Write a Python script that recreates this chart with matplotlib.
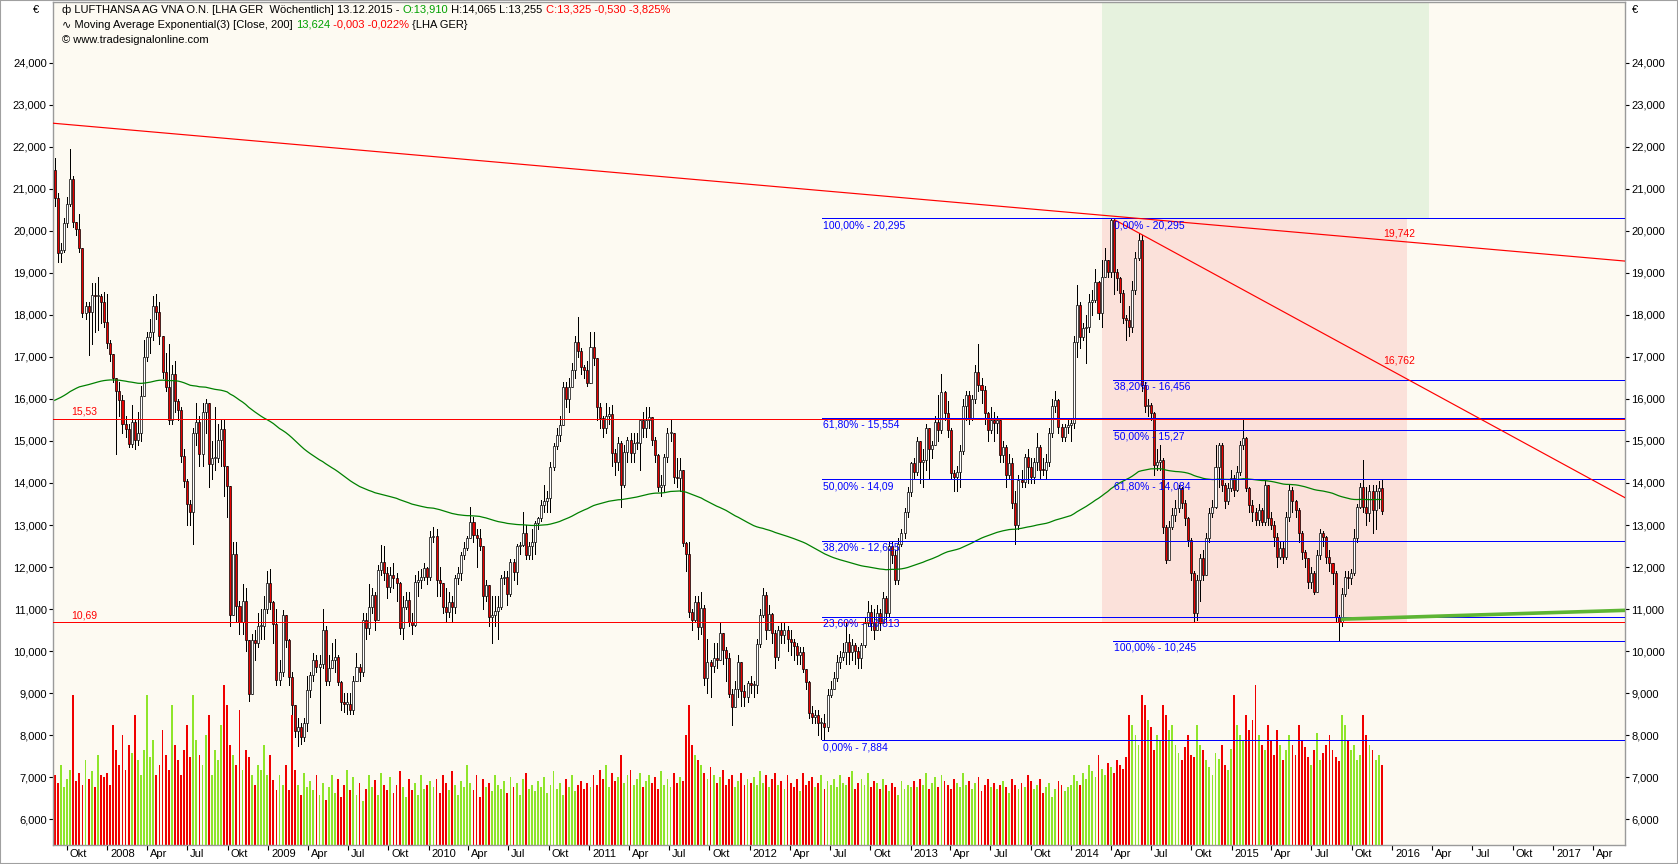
import datetime as dt
import numpy as np
import pandas as pd
import matplotlib
matplotlib.use("Agg")
import matplotlib.pyplot as plt
import matplotlib.dates as mdates
from matplotlib.patches import Rectangle

# ---------------- data (weekly LHA candles) ----------------
last_bar_date = "2015-12-08"
first_open = 21.44

close_ = [
    # Sep 2007 - Jan 2009
    20.78, 19.48, 19.55, 20.18, 20.64, 21.24, 20.21, 20.05, 19.6, 18.05, 18.2, 18.06, 18.47, 18.45, 18.45, 18.3,
    17.84, 17.33, 17.06, 16.5, 16.2, 15.97, 15.4, 15.28, 14.92, 15.46, 15.02, 15.2, 16.07, 17.0, 17.47, 17.6,
    18.2, 18.06, 17.5, 16.65, 16.29, 15.51, 16.6, 15.96, 15.73, 14.64, 14.05, 13.5, 13.32, 15.19, 15.46, 14.69,
    15.7, 15.9, 14.46, 14.6, 14.6, 15.03, 15.28, 14.41, 13.93, 10.85, 12.3, 11.08, 10.7, 11.2, 10.26, 8.98,
    10.26, 10.2, 10.6, 10.6, 11.0, 11.63, 11.17, 10.65,
    # Jan 2009 - Jun 2010
    9.31, 9.5, 10.86, 10.26, 9.39, 8.72, 8.1, 8.2, 7.95, 8.3, 9.07, 9.43, 9.8, 9.63, 9.7, 10.5,
    9.3, 9.6, 9.8, 9.87, 9.27, 8.8, 8.75, 8.75, 8.6, 9.3, 9.63, 9.5, 10.74, 10.55, 11.06, 11.33,
    10.74, 11.93, 12.13, 11.85, 11.53, 11.81, 11.73, 11.61, 10.54, 11.06, 11.22, 10.70, 10.62, 11.65, 11.69, 11.77,
    11.97, 11.77, 12.72, 12.75, 11.69, 11.61, 11.06, 10.94, 11.18, 11.06, 11.73, 11.85, 12.29, 12.45, 12.68, 13.08,
    12.76, 12.68, 12.49, 11.30, 11.57, 10.82, 10.86, 10.95,
    # Jun 2010 - Oct 2011
    11.06, 11.73, 11.77, 11.37, 12.13, 11.89, 12.49, 12.52, 12.8, 12.29, 12.49, 12.6, 13.04, 13.16, 13.48, 13.56,
    13.64, 14.39, 14.87, 15.14, 15.38, 16.29, 16.0, 16.29, 16.69, 17.36, 17.13, 16.75, 16.7, 16.37, 17.24, 16.97,
    15.81, 15.54, 15.3, 15.6, 15.65, 14.72, 14.51, 14.94, 13.95, 14.74, 15.02, 14.71, 14.95, 14.95, 15.5, 15.3,
    15.5, 15.57, 15.02, 14.67, 13.91, 13.95, 14.62, 15.18, 15.2, 14.15, 14.11, 14.3, 12.57, 12.3, 10.94, 10.74,
    11.18, 10.58, 11.02, 9.35, 9.75, 9.64, 9.83, 9.79,
    # Oct 2011 - Mar 2013
    10.42, 10.03, 9.83, 8.99, 8.68, 9.11, 9.75, 9.05, 8.92, 9.23, 9.19, 9.2, 10.18, 10.86, 11.34, 10.5,
    10.88, 10.42, 9.87, 10.50, 10.38, 10.5, 10.30, 10.22, 10.11, 9.91, 9.98, 9.57, 9.27, 8.52, 8.44, 8.48,
    8.28, 8.28, 8.20, 8.96, 9.11, 9.35, 9.75, 9.87, 9.99, 10.22, 9.99, 10.14, 10.0, 9.83, 10.14, 10.66,
    10.94, 10.66, 10.5, 10.9, 10.66, 11.26, 10.90, 12.49, 12.29, 11.69, 12.56, 12.80, 13.32, 13.78, 14.47, 14.27,
    15.0, 14.51, 14.55, 15.3, 14.82, 14.9, 15.46, 15.26,
    # Mar 2013 - Jul 2014
    16.17, 15.67, 15.26, 14.23, 14.15, 14.27, 14.75, 15.83, 16.09, 15.54, 16.0, 16.65, 16.33, 16.21, 15.66, 15.26,
    15.5, 15.42, 15.5, 14.67, 14.86, 14.19, 14.47, 13.52, 13.0, 14.07, 14.03, 14.63, 14.39, 14.15, 14.51, 14.86,
    14.31, 14.3, 14.51, 15.18, 15.82, 15.97, 15.34, 15.10, 15.34, 15.38, 15.42, 17.36, 18.24, 17.48, 17.68, 17.7,
    18.31, 18.35, 18.79, 18.04, 18.91, 19.31, 19.03, 20.25, 19.03, 18.87, 18.51, 17.92, 17.88, 17.72, 18.59, 19.35,
    19.78, 16.33, 15.82, 15.85, 15.66, 14.43, 14.5, 14.55,
    # Jul 2014 - Dec 2015
    12.96, 12.17, 12.96, 13.24, 13.40, 13.87, 13.52, 13.16, 12.64, 11.85, 10.90, 11.69, 12.21, 11.81, 12.68, 13.28,
    13.44, 14.39, 14.9, 13.95, 13.56, 13.87, 14.11, 13.83, 14.27, 14.90, 15.06, 13.87, 13.48, 13.32, 13.12, 13.36,
    13.08, 13.95, 13.16, 13.0, 12.72, 12.25, 12.45, 12.25, 13.2, 13.83, 13.56, 13.36, 12.80, 12.36, 12.21, 11.65,
    11.85, 11.41, 12.29, 12.80, 12.72, 12.25, 12.09, 11.85, 10.82, 10.7, 11.37, 11.77, 11.73, 11.85, 12.68, 13.44,
    13.91, 13.44, 13.28, 13.8, 13.36, 13.8, 13.87, 13.325,
]

high_ = [
    21.73, 20.9, 19.7, 20.3, 20.8, 21.94, 21.3, 20.2, 20.4, 19.55, 18.3, 18.3, 18.75, 18.75, 18.9, 18.5,
    18.55, 18.5, 17.4, 17.0, 16.4, 16.4, 16.1, 15.6, 15.4, 15.85, 15.5, 15.7, 16.3, 17.4, 17.6, 17.9,
    18.45, 18.5, 18.3, 17.45, 17.1, 17.3, 16.8, 16.9, 16.0, 15.8, 14.8, 14.1, 13.6, 15.3, 15.9, 15.6,
    15.9, 16.0, 15.3, 15.0, 15.8, 15.4, 15.5, 15.5, 14.4, 13.5, 12.6, 12.6, 11.2, 11.6, 11.5, 10.2,
    10.4, 10.5, 10.9, 11.0, 11.3, 11.9, 11.95, 11.2,
    11.0, 9.8, 10.98, 10.8, 10.3, 9.5, 8.6, 8.4, 8.3, 8.4, 9.4, 9.5, 9.95, 9.9, 9.9, 11.0,
    10.6, 9.9, 10.2, 10.3, 9.9, 9.3, 9.0, 9.0, 9.0, 9.4, 9.95, 9.7, 10.9, 10.9, 11.6, 11.5,
    11.4, 12.05, 12.52, 12.5, 12.0, 12.0, 12.1, 11.85, 11.65, 11.3, 11.4, 11.4, 10.9, 11.8, 11.9, 11.95,
    12.1, 12.0, 12.85, 12.95, 12.9, 12.0, 11.6, 11.5, 11.4, 11.3, 11.8, 12.0, 12.35, 12.6, 12.75, 13.44,
    13.2, 12.9, 12.9, 12.5, 11.7, 11.5, 11.3, 11.3,
    11.3, 11.8, 11.9, 11.9, 12.2, 12.2, 12.55, 12.6, 13.32, 13.0, 12.6, 12.9, 13.1, 13.2, 13.6, 13.95,
    13.8, 14.5, 14.95, 15.3, 15.6, 16.4, 16.4, 16.5, 16.85, 17.5, 17.96, 17.2, 16.8, 16.9, 17.6, 17.6,
    16.8, 15.9, 15.6, 15.9, 15.8, 15.85, 14.8, 15.1, 15.0, 14.9, 15.1, 15.2, 15.2, 15.2, 15.5, 15.7,
    15.8, 15.8, 15.3, 15.1, 14.7, 14.2, 14.7, 15.3, 15.5, 15.1, 14.6, 14.6, 14.3, 12.6, 12.6, 11.0,
    11.3, 11.3, 11.4, 11.1, 10.3, 9.8, 10.2, 10.2,
    10.7, 10.4, 10.1, 9.95, 9.1, 9.3, 9.9, 9.5, 9.2, 9.3, 9.4, 9.3, 10.3, 11.0, 11.5, 11.4,
    11.1, 10.9, 10.5, 10.6, 10.7, 10.7, 10.6, 10.5, 10.3, 10.2, 10.1, 10.1, 9.5, 9.3, 8.7, 8.6,
    8.6, 8.4, 8.5, 9.1, 9.3, 9.5, 9.9, 10.0, 10.2, 10.7, 10.4, 10.3, 10.2, 10.1, 10.2, 10.8,
    11.2, 11.1, 11.0, 11.1, 11.0, 11.4, 11.3, 12.6, 12.6, 12.4, 12.7, 12.9, 13.4, 13.9, 14.5, 14.6,
    15.1, 15.0, 14.8, 15.4, 15.3, 15.0, 15.6, 16.09,
    16.6, 16.2, 15.95, 15.3, 14.3, 14.4, 14.9, 16.0, 16.2, 16.2, 16.1, 16.8, 17.3, 16.5, 16.3, 15.7,
    15.8, 15.7, 15.6, 15.4, 15.0, 14.9, 14.7, 14.6, 13.8, 14.2, 14.3, 14.7, 14.8, 14.6, 14.6, 15.2,
    14.9, 14.6, 14.7, 15.3, 16.0, 16.2, 16.0, 15.4, 15.4, 15.5, 15.5, 17.5, 18.7, 18.3, 17.8, 18.0,
    18.5, 18.6, 19.1, 18.8, 19.3, 19.6, 19.3, 20.295, 20.28, 19.1, 18.9, 18.6, 18.0, 18.2, 18.8, 19.5,
    19.95, 19.9, 16.4, 16.0, 15.9, 15.7, 14.8, 14.9,
    14.6, 13.0, 13.1, 13.4, 13.6, 13.95, 13.9, 13.6, 13.2, 12.7, 11.9, 11.8, 12.3, 12.4, 12.8, 13.4,
    13.6, 14.9, 14.95, 14.95, 14.0, 14.0, 14.3, 14.2, 14.4, 15.0, 15.52, 15.1, 13.9, 13.6, 13.4, 13.5,
    13.4, 14.1, 13.95, 13.3, 13.1, 12.8, 12.6, 12.6, 13.3, 13.95, 13.9, 13.6, 13.4, 12.85, 12.4, 12.2,
    12.0, 11.9, 12.4, 12.9, 12.85, 12.75, 12.4, 12.1, 11.9, 10.85, 11.5, 11.9, 11.9, 11.95, 12.9, 13.5,
    14.0, 14.55, 13.9, 13.95, 13.95, 13.95, 14.05, 14.065,
]

low_ = [
    20.6, 19.25, 19.25, 19.5, 20.1, 20.6, 20.1, 19.9, 19.5, 17.95, 17.9, 17.04, 17.3, 17.6, 17.65, 17.8,
    17.7, 17.2, 16.9, 16.4, 14.69, 15.6, 15.2, 15.1, 14.85, 14.85, 14.8, 14.9, 15.0, 16.3, 16.9, 17.1,
    17.4, 17.9, 17.3, 16.5, 16.2, 15.4, 15.4, 15.7, 15.5, 14.5, 13.9, 13.0, 13.0, 12.56, 14.9, 14.4,
    14.4, 15.2, 13.9, 14.1, 14.3, 14.5, 14.4, 13.7, 13.2, 10.6, 11.4, 10.7, 10.4, 10.4, 10.0, 8.82,
    9.1, 9.8, 10.1, 10.3, 10.3, 10.9, 11.0, 10.2,
    9.2, 9.2, 9.4, 10.1, 9.2, 8.5, 7.95, 7.75, 7.8, 7.85, 8.1, 8.9, 9.3, 9.5, 8.3, 9.6,
    9.2, 9.2, 9.6, 9.5, 9.2, 8.6, 8.55, 8.5, 8.5, 8.5, 9.3, 9.3, 9.4, 10.3, 10.4, 10.9,
    10.5, 10.8, 11.8, 11.7, 11.26, 11.4, 11.5, 11.2, 10.4, 10.3, 11.0, 10.6, 10.4, 10.6, 11.3, 11.5,
    11.7, 11.6, 11.7, 12.6, 11.3, 11.3, 10.9, 10.7, 10.8, 10.7, 10.9, 11.6, 11.7, 12.2, 12.4, 12.7,
    12.6, 12.0, 12.4, 11.0, 11.2, 10.6, 10.2, 10.6,
    10.3, 11.0, 11.6, 11.1, 11.3, 11.7, 11.6, 12.3, 12.5, 12.2, 12.2, 12.2, 12.3, 12.9, 13.1, 13.3,
    13.3, 13.3, 14.3, 14.8, 15.0, 15.4, 15.8, 15.7, 16.4, 16.5, 17.0, 16.6, 16.5, 16.3, 16.4, 16.8,
    15.5, 15.3, 15.1, 15.2, 15.4, 14.4, 14.2, 14.3, 13.44, 13.9, 14.5, 14.5, 14.5, 14.8, 14.3, 15.1,
    15.1, 15.3, 14.9, 14.5, 13.8, 13.7, 13.8, 14.5, 15.0, 14.0, 13.9, 13.8, 12.5, 11.9, 10.8, 10.5,
    10.7, 10.3, 10.4, 9.2, 9.0, 8.9, 9.5, 9.6,
    9.8, 9.7, 9.3, 8.9, 8.25, 8.8, 8.9, 8.7, 8.7, 8.8, 9.0, 8.9, 9.0, 10.1, 10.8, 10.3,
    10.5, 10.2, 9.6, 9.8, 10.2, 10.2, 10.0, 9.9, 9.8, 9.7, 9.7, 9.5, 9.1, 8.4, 8.3, 8.3,
    8.0, 7.9, 7.884, 8.1, 8.9, 9.1, 9.3, 9.6, 9.8, 9.7, 9.7, 9.8, 9.7, 9.6, 9.6, 10.1,
    10.6, 10.5, 10.3, 10.5, 10.5, 10.7, 10.7, 10.8, 12.1, 11.6, 11.6, 12.5, 12.7, 13.2, 13.7, 14.1,
    14.2, 14.0, 13.9, 14.3, 14.1, 14.6, 14.9, 15.0,
    15.2, 15.5, 15.1, 14.1, 13.8, 13.8, 13.9, 14.7, 15.5, 15.4, 15.5, 15.9, 16.2, 15.9, 15.4, 15.0,
    15.2, 15.0, 15.2, 14.5, 14.5, 13.9, 14.1, 13.4, 12.54, 12.9, 13.9, 13.9, 14.0, 14.0, 14.0, 14.3,
    14.1, 14.2, 14.1, 14.4, 15.1, 15.7, 15.2, 15.0, 15.0, 15.2, 15.0, 15.3, 17.0, 17.2, 17.4, 16.85,
    17.6, 18.0, 18.3, 17.9, 17.7, 18.9, 18.9, 18.9, 18.5, 18.6, 18.3, 17.8, 17.4, 17.5, 17.6, 18.5,
    19.3, 16.2, 15.7, 15.6, 15.5, 14.2, 14.3, 14.3,
    12.8, 12.09, 12.2, 12.9, 13.1, 13.3, 13.4, 13.0, 12.5, 11.7, 10.7, 10.75, 11.2, 11.7, 11.8, 12.6,
    13.2, 13.4, 13.9, 13.8, 13.4, 13.5, 13.8, 13.7, 13.8, 14.2, 14.8, 13.8, 13.3, 13.1, 13.0, 13.0,
    13.0, 13.0, 13.0, 12.9, 12.5, 12.0, 12.2, 12.1, 12.2, 13.1, 13.3, 13.2, 12.6, 12.2, 12.0, 11.5,
    11.5, 11.35, 11.4, 12.2, 12.5, 12.1, 11.9, 11.6, 10.7, 10.245, 10.6, 11.3, 11.5, 11.6, 11.8, 12.6,
    13.4, 13.3, 13.0, 13.1, 12.8, 12.9, 13.4, 13.255,
]

# weekly volume (relative units, 1 unit = 1 px of bar height)
volume = [
    70, 62, 80, 58, 66, 75, 150, 64, 72, 60, 85, 66, 74, 58, 90, 70, 68, 72, 60,
    120, 95, 80, 110, 75, 100, 92, 130, 85, 70, 95, 150, 88, 105, 70, 80, 115, 90, 75, 140, 100, 85, 70, 95, 120, 88,
    150, 105, 90, 80, 110, 130, 70, 95, 85, 120, 160, 140, 100, 90, 80, 135, 75, 95, 88, 70, 60, 80, 75, 100, 70, 90,
    65, 55, 70, 60, 80, 55, 130, 75, 60, 50, 72, 58, 64, 55, 70, 50, 62, 45, 58, 70, 52, 66, 48, 60, 75, 55, 68, 50,
    62, 44, 56, 70, 58, 65, 50, 72, 60, 55, 68, 52, 60, 74, 58, 48, 66, 55, 62, 50, 70, 56, 60, 64,
    58, 66, 52, 70, 62, 55, 74, 60, 50, 64, 58, 80, 62, 55, 70, 48, 66, 58, 62, 54, 70, 60, 56, 64, 52, 68, 58, 62,
    50, 66, 72, 56, 60, 54, 64, 58, 68, 52, 60, 74, 56, 62, 50, 66, 58, 70, 54, 60, 64, 56, 62, 58,
    70, 60, 75, 66, 80, 58, 72, 64, 68, 90, 62, 70, 75, 60, 66, 72, 58, 64, 70, 62, 68, 56, 74, 60, 66, 58, 72, 62,
    68, 64, 110, 140, 100, 90, 85, 80, 72, 66, 78, 70, 62, 68, 75, 60, 66, 70, 58, 64, 72, 60, 66, 62,
    68, 60, 74, 62, 70, 58, 66, 72, 60, 64, 56, 70, 62, 58, 66, 54, 72, 60, 64, 68, 58, 62, 70, 56, 64, 60, 66, 58,
    70, 62, 60, 68, 74, 56, 62, 66, 60, 72, 58, 64, 62, 56, 66, 60, 54, 62, 58, 50, 64, 56, 60, 58,
    64, 58, 66, 60, 72, 56, 62, 68, 58, 70, 64, 60, 56, 66, 62, 58, 72, 60, 64, 56, 62, 68, 54, 60, 66, 58, 62, 56,
    60, 64, 58, 52, 66, 60, 56, 62, 58, 70, 64, 56, 60, 66, 52, 58, 62, 48, 56, 64, 60, 54, 58, 60,
    70, 64, 60, 72, 66, 80, 74, 68, 90, 76, 70, 82, 78, 72, 85, 80, 76, 88, 130, 120, 110, 100, 150, 140, 125, 118,
    95, 110, 105, 140, 130, 115, 120, 100, 92, 85, 98, 110, 90, 88, 120, 100, 95, 85, 78, 70, 92, 86, 100, 80, 75, 96,
    150, 120, 110, 105, 130, 115, 125, 160, 110, 100, 95, 120, 105, 90, 115, 100, 85, 95, 110, 100, 90, 120, 105, 98,
    88, 80, 95, 112, 85, 92, 100, 110, 95, 88, 84, 130, 120, 105, 95, 100, 85, 90, 130, 110, 100, 95, 85, 90, 80,
]

ema_period = 200
ema_seed = 15.92

hline_levels = [15.53, 10.69]
hline_labels = ["15,53", "10,69"]

fib1_low, fib1_high = 7.884, 20.295
fib1_ratios = [0.0, 0.236, 0.382, 0.5, 0.618, 1.0]
fib1_labels = ["0,00% - 7,884", "23,60% - 10,813", "38,20% - 12,625",
               "50,00% - 14,09", "61,80% - 15,554", "100,00% - 20,295"]
fib1_start = "2012-06-13"

fib2_high, fib2_low = 20.295, 10.245
fib2_ratios = [0.0, 0.382, 0.5, 0.618, 1.0]
fib2_labels = ["0,00% - 20,295", "38,20% - 16,456", "50,00% - 15,27",
               "61,80% - 14,084", "100,00% - 10,245"]
fib2_start = "2014-04-06"

trend1 = [("2007-08-31", 22.56), ("2017-06-13", 19.28)]
trend2 = [("2014-04-10", 20.26), ("2017-06-13", 13.65)]
trend_green = [("2015-09-06", 10.76), ("2017-06-13", 10.97)]
trend_labels = ["19,742", "16,762"]

zone_start, zone_pink_end, zone_green_end = "2014-03-12", "2016-02-04", "2016-03-24"
zone_mid, zone_bottom = 20.295, 10.70

x_left, x_right = "2007-08-31", "2017-06-13"
y_bottom, y_top = 5.387, 25.444

# ---------------- figure ----------------
W, H = 1678, 864
FONT = ["Liberation Sans", "DejaVu Sans"]
plt.rcParams["font.family"] = FONT
fig = plt.figure(figsize=(W / 100, H / 100), dpi=100)
fig.patch.set_facecolor("white")
L, R, T, B = 53, 1625, 2, 845
pos = [L / W, 1 - B / H, (R - L) / W, (B - T) / H]
PX = 0.72  # one pixel in points

BG = "#FDFAF2"
d2n = lambda s: mdates.date2num(pd.Timestamp(s).to_pydatetime())
xl, xr = d2n(x_left), d2n(x_right)

# volume axes (underneath)
axv = fig.add_axes(pos, zorder=1)
axv.set_facecolor(BG)
axv.set_xlim(xl, xr)
axv.set_ylim(0, B - T)
axv.set_xticks([]); axv.set_yticks([])
for s in axv.spines.values():
    s.set_visible(False)

ax = fig.add_axes(pos, zorder=2)
ax.patch.set_visible(False)
ax.set_xlim(xl, xr)
ax.set_ylim(y_bottom, y_top)

def px2x(px):
    return xl + (px - L) / (R - L) * (xr - xl)

def px2y(py):
    return y_top - (py - T) / (B - T) * (y_top - y_bottom)

# candles
c = np.array(close_)
o = np.r_[first_open, c[:-1]]
h = np.maximum.reduce([np.array(high_), o, c])
l = np.minimum.reduce([np.array(low_), o, c])
dates = pd.date_range(end=last_bar_date, periods=len(c), freq="7D")
x = mdates.date2num(dates.to_pydatetime())
up = c >= o

# volume bars
vup = np.r_[c[0] >= first_open, c[1:] >= c[:-1]]
axv.bar(x, volume, width=4.2, bottom=0, color=np.where(vup, "#8EE52A", "#F00000"),
        linewidth=0, antialiased=False)

# zones
ax.add_patch(Rectangle((d2n(zone_start), zone_mid), d2n(zone_green_end) - d2n(zone_start), 10,
                       facecolor="#E6F2DE", edgecolor="none", zorder=0.5))
ax.add_patch(Rectangle((d2n(zone_start), zone_bottom), d2n(zone_pink_end) - d2n(zone_start),
                       zone_mid - zone_bottom, facecolor="#FBE1DA", edgecolor="none", zorder=0.5))

ax.vlines(x, l, h, colors="black", linewidth=PX, zorder=3, antialiased=False)
body_lo = np.minimum(o, c)
body_h = np.maximum(np.abs(c - o), 0.03)
ax.bar(x, body_h, bottom=body_lo, width=4.6, color=np.where(up, "white", "#E60000"),
       edgecolor="black", linewidth=0.5, zorder=4)

# EMA 200
alpha = 2.0 / (ema_period + 1)
ema = []
prev = ema_seed
for v in c:
    prev = prev + alpha * (v - prev)
    ema.append(prev)
ax.plot(x, ema, color="#008000", linewidth=0.9, zorder=5)

# fib 1
for r, lab in zip(fib1_ratios, fib1_labels):
    lev = fib1_low + r * (fib1_high - fib1_low)
    ax.plot([d2n(fib1_start), xr], [lev, lev], color="#0000FF", linewidth=PX, zorder=5,
            antialiased=False)
    ax.annotate(lab, (d2n(fib1_start), lev), xytext=(1, -2), textcoords="offset pixels",
                ha="left", va="top", color="#0000FF", fontsize=7.5, zorder=6)
# fib 2
for r, lab in zip(fib2_ratios, fib2_labels):
    lev = fib2_high - r * (fib2_high - fib2_low)
    ax.plot([d2n(fib2_start), xr], [lev, lev], color="#0000FF", linewidth=PX, zorder=5,
            antialiased=False)
    ax.annotate(lab, (d2n(fib2_start), lev), xytext=(1, -2), textcoords="offset pixels",
                ha="left", va="top", color="#0000FF", fontsize=7.5, zorder=6)

# horizontal red lines
for lev, lab in zip(hline_levels, hline_labels):
    ax.plot([xl, xr], [lev, lev], color="#FF0000", linewidth=PX, zorder=5.5, antialiased=False)
    ax.annotate(lab, (px2x(71), lev), xytext=(0, 2), textcoords="offset pixels",
                ha="left", va="bottom", color="#FF0000", fontsize=7.5, zorder=6)

# trend lines
for tl in (trend1, trend2):
    ax.plot([d2n(tl[0][0]), d2n(tl[1][0])], [tl[0][1], tl[1][1]], color="#FF0000",
            linewidth=0.85, zorder=5.5, antialiased=True)
ax.plot([d2n(trend_green[0][0]), d2n(trend_green[1][0])], [trend_green[0][1], trend_green[1][1]],
        color="#5DB534", linewidth=2.6, zorder=5.5, solid_capstyle="butt")
ax.text(px2x(1399), px2y(234), trend_labels[0], color="#FF0000", fontsize=7.5,
        ha="center", va="center", zorder=6)
ax.text(px2x(1399), px2y(360), trend_labels[1], color="#FF0000", fontsize=7.5,
        ha="center", va="center", zorder=6)

# axes styling
for s in ax.spines.values():
    s.set_color("#9A9A9A")
    s.set_linewidth(1.0)
yt = np.arange(6, 25, 1)
ax.set_yticks(yt)
ax.set_yticklabels([f"{v:.3f}".replace(".", ",") for v in yt])
ax.tick_params(axis="y", which="both", left=True, right=True, labelleft=True, labelright=True,
               length=3, width=0.8, pad=1.5, direction="out", labelsize=8, colors="black")

month_lab = {4: "Apr", 7: "Jul", 10: "Okt"}
qticks = pd.date_range("2007-10-01", "2017-04-01", freq="QS")
ax.set_xticks(mdates.date2num(qticks.to_pydatetime()))
ax.set_xticklabels([""] * len(qticks))
ax.tick_params(axis="x", length=3.5, width=0.8, direction="out", colors="black")
for d in qticks:
    lab = str(d.year) if d.month == 1 else month_lab[d.month]
    ax.annotate(lab, (d2n(d), 0), xycoords=("data", "axes fraction"), xytext=(3, -4),
                textcoords="offset pixels", ha="left", va="top", fontsize=8, color="black",
                annotation_clip=False)

# euro signs
fig.text(36 / W, 1 - 10 / H, "€", fontsize=8, ha="center", va="center")
fig.text(1632 / W, 1 - 10 / H, "€", fontsize=8, ha="left", va="center")

# header lines (multi-coloured)
renderer = fig.canvas.get_renderer()

def text_w(s):
    t = fig.text(0, 0, s, fontsize=8)
    w = t.get_window_extent(renderer=renderer).width
    t.remove()
    return w

def draw_line(x0, y0, pieces):
    bar_w = text_w("|")
    prefix = ""
    for txt, col in pieces:
        xoff = 0 if prefix == "" else text_w(prefix + "|") - bar_w
        fig.text((x0 + xoff) / W, 1 - y0 / H, txt, color=col, fontsize=8, ha="left",
                 va="center", zorder=10)
        prefix += txt

K, G, RD = "black", "#00A000", "#FF0000"
draw_line(62, 10, [("ф LUFTHANSA AG VNA O.N. [LHA GER  Wöchentlich] 13.12.2015 - ", K),
                   ("O:13,910", G), (" H:14,065 L:13,255 ", K), ("C:13,325 -0,530 -3,825%", RD)])
draw_line(62, 24.5, [("∿ Moving Average Exponential(3) [Close, 200] ", K), ("13,624", G),
                     (" -0,003 -0,022%", RD), (" {LHA GER}", K)])
draw_line(62, 40, [("© www.tradesignalonline.com", K)])

# outer frame
fig.add_artist(Rectangle((0, 0), 1, 1, transform=fig.transFigure, fill=False,
                         edgecolor="#A0A0A0", linewidth=1.5))

fig.savefig("out.png", dpi=100, facecolor=fig.get_facecolor())
